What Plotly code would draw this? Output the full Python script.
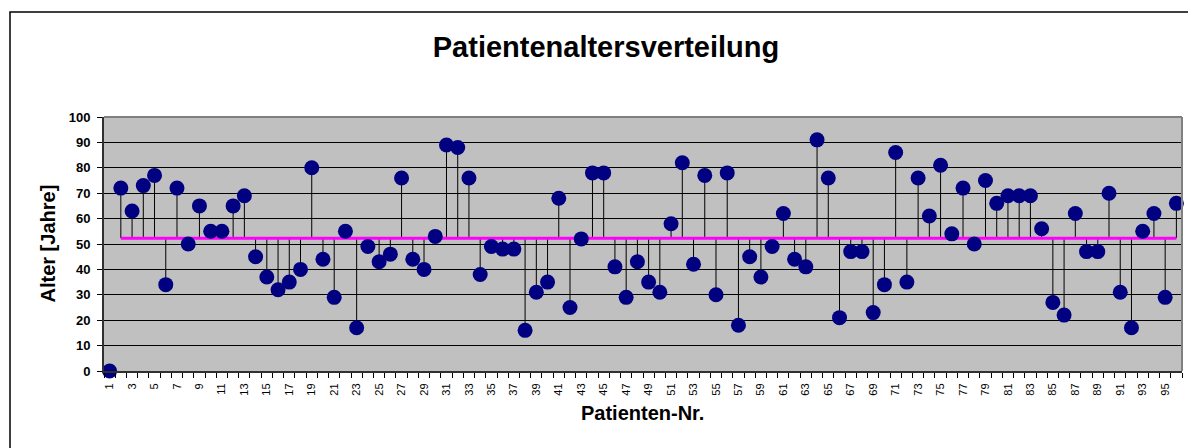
import plotly.graph_objects as go

# Patient ages (years), patient numbers 1..96
patient_nr = list(range(1, 97))
alter = [
    0, 72, 63, 73, 77, 34, 72, 50, 65, 55,
    55, 65, 69, 45, 37, 32, 35, 40, 80, 44,
    29, 55, 17, 49, 43, 46, 76, 44, 40, 53,
    89, 88, 76, 38, 49, 48, 48, 16, 31, 35,
    68, 25, 52, 78, 78, 41, 29, 43, 35, 31,
    58, 82, 42, 77, 30, 78, 18, 45, 37, 49,
    62, 44, 41, 91, 76, 21, 47, 47, 23, 34,
    86, 35, 76, 61, 81, 54, 72, 50, 75, 66,
    69, 69, 69, 56, 27, 22, 62, 47, 47, 70,
    31, 17, 55, 62, 29, 66,
]
# x tick labels: every other patient number
x_tickvals = patient_nr[::2]
x_ticktext = [str(n) for n in x_tickvals]
y_tickvals = list(range(0, 101, 10))

# mean age over patients 2..96 (reference line)
nr_mean = patient_nr[1:]
age_mean = sum(alter[1:]) / len(alter[1:])

W, H = 1188, 448
L, R, T, B = 104, 6, 117, 77
pw, ph = W - L - R, H - T - B


def px_x(p):
    return (p - L) / pw


def px_y(p):
    return (H - B - p) / ph


FONT = "Liberation Sans, Arial, sans-serif"

fig = go.Figure()

# stems from mean line to each value
sx, sy = [], []
for n, a in zip(nr_mean, alter[1:]):
    sx += [n, n, None]
    sy += [age_mean, a, None]
fig.add_trace(go.Scatter(x=sx, y=sy, mode="lines",
                         line=dict(color="#000000", width=1),
                         hoverinfo="skip", showlegend=False))

# mean line
fig.add_trace(go.Scatter(x=[nr_mean[0], nr_mean[-1]], y=[age_mean, age_mean],
                         mode="lines", line=dict(color="#FF00FF", width=3),
                         showlegend=False))

# age markers
fig.add_trace(go.Scatter(x=patient_nr, y=alter, mode="markers",
                         marker=dict(color="#000080", size=15, line=dict(width=0)),
                         showlegend=False, cliponaxis=False))

fig.update_layout(
    width=W, height=H,
    margin=dict(l=L, r=R, t=T, b=B),
    paper_bgcolor="#FFFFFF",
    plot_bgcolor="#C0C0C0",
    font=dict(family=FONT, color="#000000"),
    title=dict(text="Patientenaltersverteilung", xref="container", yref="container",
               x=606 / W, y=1 - 47 / H, xanchor="center", yanchor="middle",
               font=dict(size=29, family=FONT, weight="bold", color="#000000")),
    xaxis=dict(
        range=[0.5, 96.5], tickmode="array", tickvals=x_tickvals, ticktext=x_ticktext,
        tickangle=-90, tickfont=dict(size=11, family=FONT), ticks="",
        ticklabelstandoff=6,
        minor=dict(tickmode="linear", tick0=0.5, dtick=1, ticks="outside",
                   ticklen=5, tickcolor="#000000", tickwidth=1, showgrid=False),
        showgrid=False, zeroline=False,
        showline=True, linecolor="#303030", linewidth=2,
    ),
    yaxis=dict(
        range=[0, 100], tickmode="array", tickvals=y_tickvals,
        tickfont=dict(size=13, family=FONT, weight="bold"),
        ticks="outside", ticklen=5, tickcolor="#000000", tickwidth=1,
        ticklabelstandoff=4,
        showgrid=True, gridcolor="#000000", gridwidth=1, zeroline=False,
        showline=True, linecolor="#303030", linewidth=2,
    ),
    shapes=[
        # outer chart frame
        dict(type="rect", xref="paper", yref="paper",
             x0=px_x(10), y0=px_y(12), x1=px_x(W + 20), y1=px_y(H + 20),
             line=dict(color="#000000", width=1.5), fillcolor="rgba(0,0,0,0)",
             layer="below"),
        # plot area border (top / right)
        dict(type="line", xref="paper", yref="paper", x0=0, x1=1, y0=1, y1=1,
             line=dict(color="#808080", width=2)),
        dict(type="line", xref="paper", yref="paper", x0=1, x1=1, y0=0, y1=1,
             line=dict(color="#808080", width=2)),
    ],
    annotations=[
        dict(text="Alter [Jahre]", xref="paper", yref="paper",
             x=px_x(47.5), y=0.5, xanchor="center", yanchor="middle",
             textangle=-90, showarrow=False,
             font=dict(size=20, family=FONT, weight="bold")),
        dict(text="Patienten-Nr.", xref="paper", yref="paper",
             x=px_x(642), y=px_y(413), xanchor="center", yanchor="middle",
             showarrow=False, font=dict(size=20, family=FONT, weight="bold")),
    ],
)

fig.write_html("out.html")
